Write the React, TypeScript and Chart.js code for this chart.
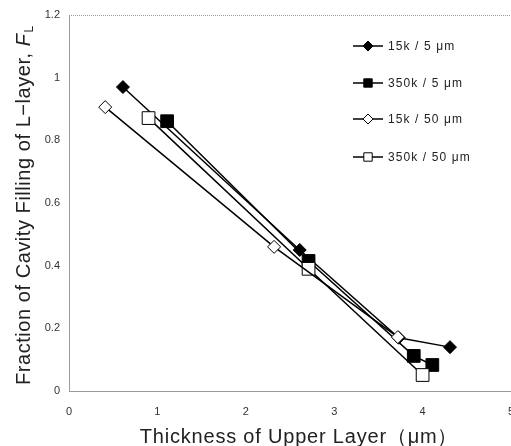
import React, { useEffect, useRef } from 'react';
import { Chart, registerables } from 'chart.js';

Chart.register(...registerables);

// ---- data ----
const seriesLabels = ['15k / 5 μm', '350k / 5 μm', '15k / 50 μm', '350k / 50 μm'];
const s15k5X = [0.61, 2.61, 3.73, 4.31];
const s15k5Y = [0.97, 0.45, 0.17, 0.14];
const s350k5X = [1.11, 2.71, 3.9, 4.11];
const s350k5Y = [0.861, 0.415, 0.112, 0.083];
const s15k50X = [0.41, 2.32, 3.72];
const s15k50Y = [0.906, 0.46, 0.172];
const s350k50X = [0.9, 2.71, 4.0];
const s350k50Y = [0.871, 0.39, 0.051];
const xTickLabels = ['0', '1', '2', '3', '4', '5'];
const yTickLabels = ['0', '0.2', '0.4', '0.6', '0.8', '1', '1.2'];
const xTitle = 'Thickness of Upper Layer（μm）';
const yTitleMain = 'Fraction of Cavity Filling of L−layer, ';
const yTitleVar = 'F';
const yTitleSub = 'L';

const FONT = '"Liberation Sans", Arial, sans-serif';

const toPts = (xs: number[], ys: number[]) => xs.map((x, i) => ({ x, y: ys[i] }));

type Mk = { style: 'diamond' | 'square'; filled: boolean };
const markers: Mk[] = [
  { style: 'diamond', filled: true },
  { style: 'square', filled: true },
  { style: 'diamond', filled: false },
  { style: 'square', filled: false },
];

function drawMarker(ctx: CanvasRenderingContext2D, x: number, y: number, m: Mk, r: number) {
  ctx.beginPath();
  if (m.style === 'diamond') {
    ctx.moveTo(x, y - r);
    ctx.lineTo(x + r, y);
    ctx.lineTo(x, y + r);
    ctx.lineTo(x - r, y);
    ctx.closePath();
  } else {
    ctx.rect(x - r, y - r, 2 * r, 2 * r);
  }
  ctx.fillStyle = m.filled ? '#000' : '#fff';
  ctx.fill();
  ctx.lineWidth = 1;
  ctx.strokeStyle = '#000';
  ctx.stroke();
}

const framePlugin = {
  id: 'framePlugin',
  afterDraw(chart: any) {
    const { ctx, chartArea } = chart;
    ctx.save();
    // top dotted frame line
    ctx.strokeStyle = '#9a9a9a';
    ctx.lineWidth = 1;
    ctx.setLineDash([1, 1]);
    ctx.beginPath();
    ctx.moveTo(chartArea.left, chartArea.top + 0.5);
    ctx.lineTo(chart.width, chartArea.top + 0.5);
    ctx.stroke();
    ctx.setLineDash([]);

    // legend
    const rows = [46, 83, 119, 157];
    seriesLabels.forEach((lab, i) => {
      const y = rows[i];
      ctx.strokeStyle = '#000';
      ctx.lineWidth = 1.5;
      ctx.beginPath();
      ctx.moveTo(353, y);
      ctx.lineTo(383, y);
      ctx.stroke();
      drawMarker(ctx, 368, y, markers[i], markers[i].style === 'diamond' ? 5 : 4.2);
      ctx.fillStyle = '#222';
      ctx.font = `12px ${FONT}`;
      (ctx as any).letterSpacing = '1.1px';
      ctx.textAlign = 'left';
      ctx.textBaseline = 'middle';
      ctx.fillText(lab, 388, y + 1);
      (ctx as any).letterSpacing = '0px';
    });

    // x title
    ctx.fillStyle = '#222';
    ctx.font = `20px ${FONT}`;
    (ctx as any).letterSpacing = '0.8px';
    ctx.textAlign = 'center';
    ctx.textBaseline = 'middle';
    ctx.fillText(xTitle, 299, 437);

    // y title (rotated)
    ctx.save();
    ctx.translate(30, 385);
    ctx.rotate(-Math.PI / 2);
    ctx.textAlign = 'left';
    ctx.textBaseline = 'alphabetic';
    (ctx as any).letterSpacing = '0.55px';
    ctx.font = `20px ${FONT}`;
    ctx.fillText(yTitleMain, 0, 0);
    let w = ctx.measureText(yTitleMain).width;
    ctx.font = `italic 20px ${FONT}`;
    ctx.fillText(yTitleVar, w, 0);
    w += ctx.measureText(yTitleVar).width + 1;
    ctx.font = `12px ${FONT}`;
    ctx.fillText(yTitleSub, w, 3);
    ctx.restore();
    (ctx as any).letterSpacing = '0px';

    ctx.restore();
  },
};

export default function App() {
  const ref = useRef<HTMLCanvasElement>(null);
  useEffect(() => {
    if (!ref.current) return;
    const mk = (label: string, data: any[], m: Mk, order: number) => ({
      label,
      data,
      showLine: true,
      borderColor: '#000',
      borderWidth: 1.5,
      backgroundColor: m.filled ? '#000' : '#fff',
      pointBackgroundColor: m.filled ? '#000' : '#fff',
      pointBorderColor: '#000',
      pointBorderWidth: 1,
      pointStyle: m.style === 'diamond' ? 'rectRot' : 'rect',
      pointRadius: m.style === 'diamond' ? 6.5 : 9,
      order,
    });
    const chart = new Chart(ref.current, {
      type: 'scatter',
      data: {
        datasets: [
          mk(seriesLabels[0], toPts(s15k5X, s15k5Y), markers[0], 3),
          mk(seriesLabels[1], toPts(s350k5X, s350k5Y), markers[1], 4),
          mk(seriesLabels[2], toPts(s15k50X, s15k50Y), markers[2], 1),
          mk(seriesLabels[3], toPts(s350k50X, s350k50Y), markers[3], 2),
        ] as any,
      },
      options: {
        animation: false,
        responsive: false,
        devicePixelRatio: 1,
        layout: { padding: { top: 15, right: 19, left: 0, bottom: 0 } },
        plugins: { legend: { display: false }, tooltip: { enabled: false } },
        scales: {
          x: {
            type: 'linear',
            min: 0,
            max: 5,
            afterFit: (s: any) => { s.height = 55; },
            grid: { display: false },
            border: { display: true, color: '#9a9a9a', dash: [1, 1], width: 1 },
            ticks: {
              stepSize: 1,
              padding: 6,
              color: '#333',
              font: { size: 11, family: FONT },
              callback: (v: any) => xTickLabels[Math.round(Number(v))] ?? '',
              maxRotation: 0,
            },
          },
          y: {
            type: 'linear',
            min: 0,
            max: 1.2,
            afterFit: (s: any) => { s.width = 69; },
            grid: { display: false },
            border: { display: true, color: '#9a9a9a', dash: [1, 1], width: 1 },
            ticks: {
              stepSize: 0.2,
              padding: 1,
              color: '#333',
              font: { size: 11, family: FONT },
              callback: (v: any) => yTickLabels[Math.round(Number(v) / 0.2)] ?? '',
            },
          },
        },
      } as any,
      plugins: [framePlugin],
    });
    return () => chart.destroy();
  }, []);
  return (
    <div style={{ position: 'absolute', left: 0, top: 0, width: 511, height: 446, overflow: 'hidden', background: '#fff' }}>
      <canvas ref={ref} width={530} height={446} style={{ width: 530, height: 446, display: 'block' }} />
    </div>
  );
}
